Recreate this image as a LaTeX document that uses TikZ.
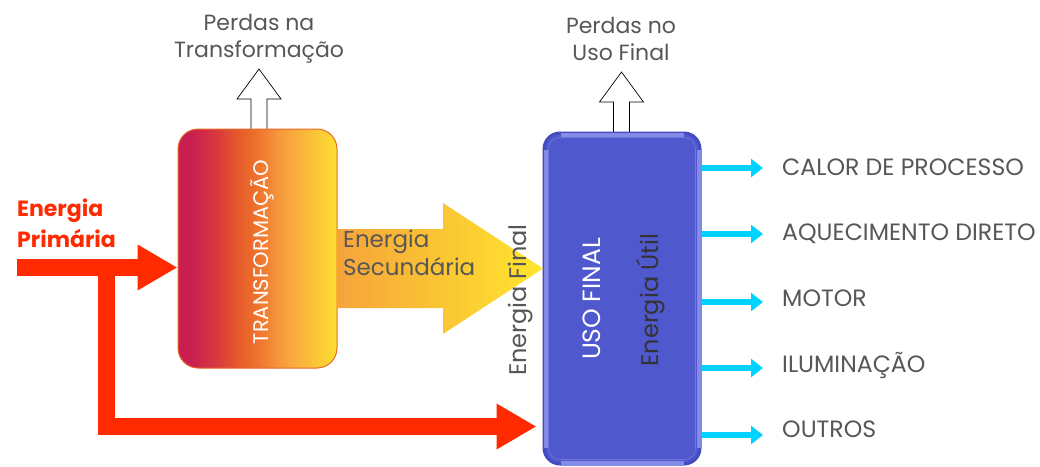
\documentclass[tikz,border=0pt]{standalone}
\usepackage{fontspec}
\setmainfont{Poppins}
\usetikzlibrary{arrows.meta,calc}
\definecolor{tgray}{HTML}{575757}
\definecolor{ered}{HTML}{FF2A00}
\definecolor{ucyan}{HTML}{00D2FF}
\definecolor{ublue}{HTML}{5058CE}
\definecolor{ubluedark}{HTML}{444AC0}
\definecolor{ubluelight}{HTML}{848BE6}
\definecolor{ublueline}{HTML}{7078DA}
\definecolor{tborder}{HTML}{E8682A}
\definecolor{ca}{HTML}{C81F50}
\definecolor{cb}{HTML}{D8383F}
\definecolor{cc}{HTML}{E65A2A}
\definecolor{cd}{HTML}{EE742E}
\definecolor{ce}{HTML}{F79E3F}
\definecolor{cf}{HTML}{FBC038}
\definecolor{cg}{HTML}{FDDF30}
\definecolor{yl}{HTML}{F6A43A}
\definecolor{yr}{HTML}{FFE62E}
\pgfdeclarehorizontalshading{transshade}{100bp}{color(0bp)=(ca); color(25bp)=(ca); color(29bp)=(ca); color(37bp)=(cb); color(44bp)=(cc); color(50bp)=(cd); color(58bp)=(ce); color(67bp)=(cf); color(75bp)=(cg); color(100bp)=(cg)}
\newcommand{\fsz}[1]{\fontsize{#1}{#1}\selectfont}
\begin{document}
\begin{tikzpicture}[x=1pt,y=-1pt,
  lbl/.style={tgray, inner sep=0},
  redarrow/.style={ered, line width=17pt, line join=miter, -{Triangle[length=40pt,width=43pt]}},
  cyanarrow/.style={ucyan, line width=6pt, -{Triangle[length=12pt,width=18pt]}},
  strip/.style={ubluelight, line width=4pt},
  lossarrow/.pic={\draw[fill=white, line width=0.7pt] (-8,0) -- (-8,-32) -- (-22,-32) -- (0,-62) -- (22,-32) -- (8,-32) -- (8,0);}
]
\useasboundingbox (0,0) rectangle (1040,466);
\fill[white] (0,0) rectangle (1040,466);

% loss arrows (behind boxes)
\pic at (259,131) {lossarrow};
\pic at (621.5,134) {lossarrow};

% boxes
\node[draw=tborder, line width=1pt, rounded corners=20pt, shading=transshade,
      minimum width=159pt, minimum height=239pt, inner sep=0] (trans) at (257.5,248.5) {};
\node[fill=ublue, draw=ubluedark, line width=3pt, rounded corners=16pt,
      minimum width=156pt, minimum height=331pt, inner sep=0] (uso) at (622,298.5) {};
\draw[strip] ($(uso.north west)+(18,3)$) -- ($(uso.north east)+(-18,3)$);
\draw[strip] ($(uso.south west)+(18,-3)$) -- ($(uso.south east)+(-18,-3)$);
\draw[strip] ($(uso.north west)+(3,18)$) -- ($(uso.south west)+(3,-18)$);
\draw[strip] ($(uso.north east)+(-3,18)$) -- ($(uso.south east)+(-3,-18)$);
\draw[ublueline, line width=0.6pt, rounded corners=11pt]
  ($(uso.south west)+(6,-6)$) rectangle ($(uso.north east)+(-6,6)$);

% box texts
\node[rotate=90, anchor=base, white, inner sep=0, font=\fsz{21}] at (268,252) {TRANSFORMAÇÃO};
\node[rotate=90, anchor=base, white, inner sep=0, font=\fsz{25}] at (600,299) {USO FINAL};
\node[rotate=90, anchor=base, inner sep=0, text=black!80, font=\fsz{24}] at (658,300) {Energia Útil};

% yellow arrow
\shade[left color=yl, right color=yr]
  (trans.east |- 0,229) -- (443,229) -- (443,203) -- (543,268.5) -- (443,334) -- (443,308) -- (trans.east |- 0,308) -- cycle;
\node[lbl, anchor=west, align=left, font=\fsz{23}, text height=16pt] (sec) at (343,267.5) {Energia\\[3pt]Secundária};
\node[lbl, rotate=90, anchor=base, font=\fsz{24}] (fin) at (526,300) {Energia Final};

% primary energy
\node[anchor=west, inner sep=0, text=ered, align=left, font=\fsz{22}\bfseries] (prim) at (17,223) {Energia\\[6pt]Primária};
\coordinate (src) at (17,267.5);
\coordinate (split) at (106.5,267.5);
\coordinate (bend) at (106.5,426.5);
\draw[redarrow] (src) -- (src -| trans.west);
\draw[redarrow] (split) -- (bend) -- ($(bend -| uso.west)+(-6,0)$);

% loss labels
\node[lbl, align=center, font=\fsz{22}] (pt) at (259,39) {Perdas na\\[5pt]Transformação};
\node[lbl, align=center, font=\fsz{22}] (pu) at (621,39) {Perdas no\\[5pt]Uso Final};

% outputs
\foreach \y/\b/\t [count=\i] in {168/175/CALOR DE PROCESSO, 234/240/AQUECIMENTO DIRETO, 302/306/MOTOR, 368/372/ILUMINAÇÃO, 435/437/OUTROS}{
  \coordinate (c\i) at (763,\y);
  \node[lbl, anchor=base west, font=\fsz{23.6}] (l\i) at (782,\b) {\t};
  \draw[cyanarrow] (c\i -| uso.east) -- (c\i);
}
\end{tikzpicture}
\end{document}
